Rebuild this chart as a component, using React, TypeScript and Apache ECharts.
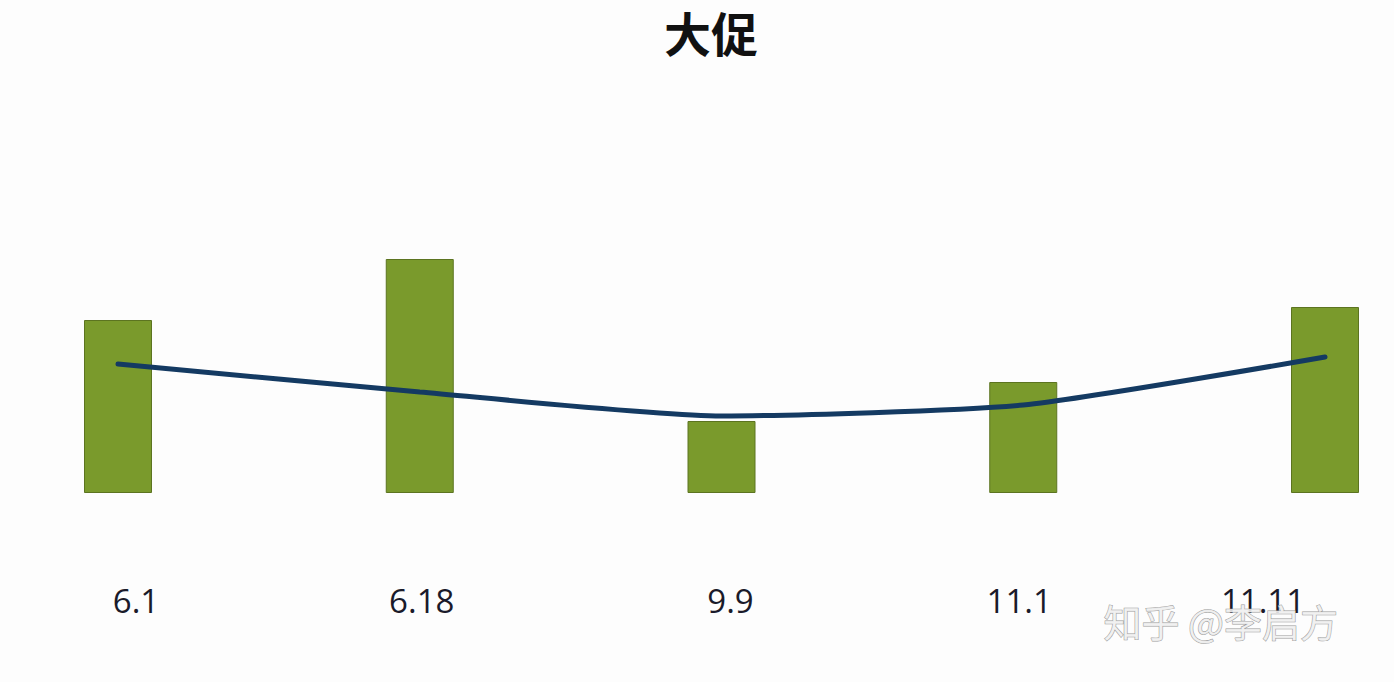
import React, { useEffect, useRef } from "react";
import * as echarts from "echarts";

const categories = ["6.1", "6.18", "9.9", "11.1", "11.11"];
const barValues = [17.3, 23.4, 7.2, 11.1, 18.6];
const lineValues = [12.9, 10.1, 7.7, 8.8, 13.6];
const labelShift = [18, 2, 9, -4, -62];

export default function App() {
  const ref = useRef<HTMLDivElement>(null);
  useEffect(() => {
    if (!ref.current) return;
    const chart = echarts.init(ref.current, null, { renderer: "svg" });
    const rich: Record<string, any> = {};
    labelShift.forEach((s, i) => {
      rich["l" + i] = {
        fontSize: 33,
        fontFamily: "Open Sans",
        color: "#1a1a2a",
        lineHeight: 36,
        padding: s >= 0 ? [0, 0, 0, 2 * s] : [0, -2 * s, 0, 0],
      };
    });
    chart.setOption({
      animation: false,
      backgroundColor: "#fdfdfd",
      title: {
        text: "大促",
        left: 664,
        top: 7,
        padding: 0,
        textStyle: {
          fontSize: 47,
          lineHeight: 48,
          fontWeight: "bold",
          fontFamily: "Noto Sans CJK SC",
          color: "#111111",
        },
      },
      grid: {
        left: 118,
        right: 69,
        top: 193,
        bottom: 189,
        containLabel: false,
        outerBoundsMode: "none",
      },
      xAxis: {
        type: "category",
        data: categories,
        boundaryGap: false,
        axisLine: { show: false },
        axisTick: { show: false },
        splitLine: { show: false },
        axisLabel: {
          margin: 89,
          interval: 0,
          formatter: (v: string, i: number) => `{l${i}|${v}}`,
          rich,
        },
      },
      yAxis: {
        type: "value",
        min: 0,
        max: 30,
        show: false,
      },
      series: [
        {
          type: "bar",
          data: barValues,
          barWidth: 68,
          itemStyle: { color: "#7a9a2c", borderColor: "#5c7420", borderWidth: 1 },
          z: 1,
        },
        {
          type: "line",
          data: lineValues,
          smooth: 0.2,
          symbol: "none",
          lineStyle: { color: "#143a62", width: 5, cap: "round" },
          z: 3,
        },
      ],
      graphic: [
        {
          type: "text",
          left: 1103,
          top: 601,
          style: {
            text: "知乎 @李启方",
            fontSize: 38,
            fontFamily: "Noto Sans CJK SC",
            fill: "rgba(240,240,240,0.9)",
            stroke: "#9a9a9a",
            lineWidth: 1,
          },
          z: 10,
        },
      ],
    });
    return () => chart.dispose();
  }, []);
  return (
    <div
      ref={ref}
      style={{ position: "absolute", left: 0, top: 0, width: 1394, height: 682 }}
    />
  );
}
